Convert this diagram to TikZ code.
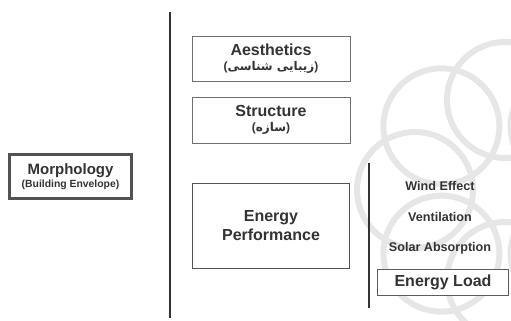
\documentclass[tikz,border=0pt]{standalone}
\usepackage{fontspec}
\usetikzlibrary{calc}
\setmainfont{Liberation Sans}
\newfontfamily\arabicfont[Script=Arabic]{DejaVu Sans}
\TeXXeTstate=1
\definecolor{ink}{HTML}{333333}
\definecolor{wm}{HTML}{E6E6E6}
\tikzset{
  box/.style={draw=ink!85, line width=1pt, fill=white, inner sep=0pt, align=center, text=ink, font=\bfseries},
  lbl/.style={text=ink, font=\bfseries\fontsize{12.6}{14}\selectfont, inner sep=0pt},
  rule/.style={draw=ink, line width=2pt},
}
\begin{document}
\begin{tikzpicture}[x=1pt,y=-1pt]
\useasboundingbox (0,0) rectangle (511,321);
% watermark rosette
\begin{scope}
\clip (330,0) rectangle (511,321);
\foreach \a in {0,45,...,315}{
  \draw[wm, line width=6pt] ($(505,190)+(\a:90)$) circle (58pt);
}
\end{scope}
\coordinate (t1) at (170,12);
\coordinate (b1) at (170,318);
\draw[rule] (t1) -- (b1);
\coordinate (t2) at (369,163);
\coordinate (b2) at (369,308);
\draw[draw=ink, line width=1.3pt] (t2) -- (b2);
\node[box, line width=2.6pt, minimum width=122pt, minimum height=44pt] (morph) at (70.5,176.5)
  {\fontsize{15}{16}\selectfont Morphology\\[1pt]\fontsize{10.4}{12}\selectfont (Building Envelope)};
\node[box, draw=ink!70, line width=0.9pt, minimum width=158pt, minimum height=45pt] (aes) at (271,58.5)
  {\fontsize{16}{17}\selectfont Aesthetics\\[3pt]\fontsize{12}{13}\selectfont ({\arabicfont\bfseries\beginR زیبایی شناسی\endR})};
\node[box, draw=ink!70, line width=0.9pt, minimum width=158pt, minimum height=46pt] (str) at (271,120)
  {\fontsize{16}{17}\selectfont Structure\\[3pt]\fontsize{12}{13}\selectfont ({\arabicfont\bfseries\beginR سازه\endR})};
\node[box, line width=1.6pt, minimum width=157pt, minimum height=85pt] (ep) at (271,226)
  {\fontsize{16}{17}\selectfont Energy\\[3pt]\fontsize{16}{17}\selectfont Performance};
\node[lbl] (wind) at (440,186) {Wind Effect};
\node[lbl] (vent) at (440,217) {Ventilation};
\node[lbl] (solar) at (440,248) {Solar Absorption};
\node[box, draw=ink!80, line width=1pt, minimum width=131pt, minimum height=26pt] (el) at (443,282)
  {\fontsize{16}{17}\selectfont Energy Load};
\end{tikzpicture}
\end{document}
